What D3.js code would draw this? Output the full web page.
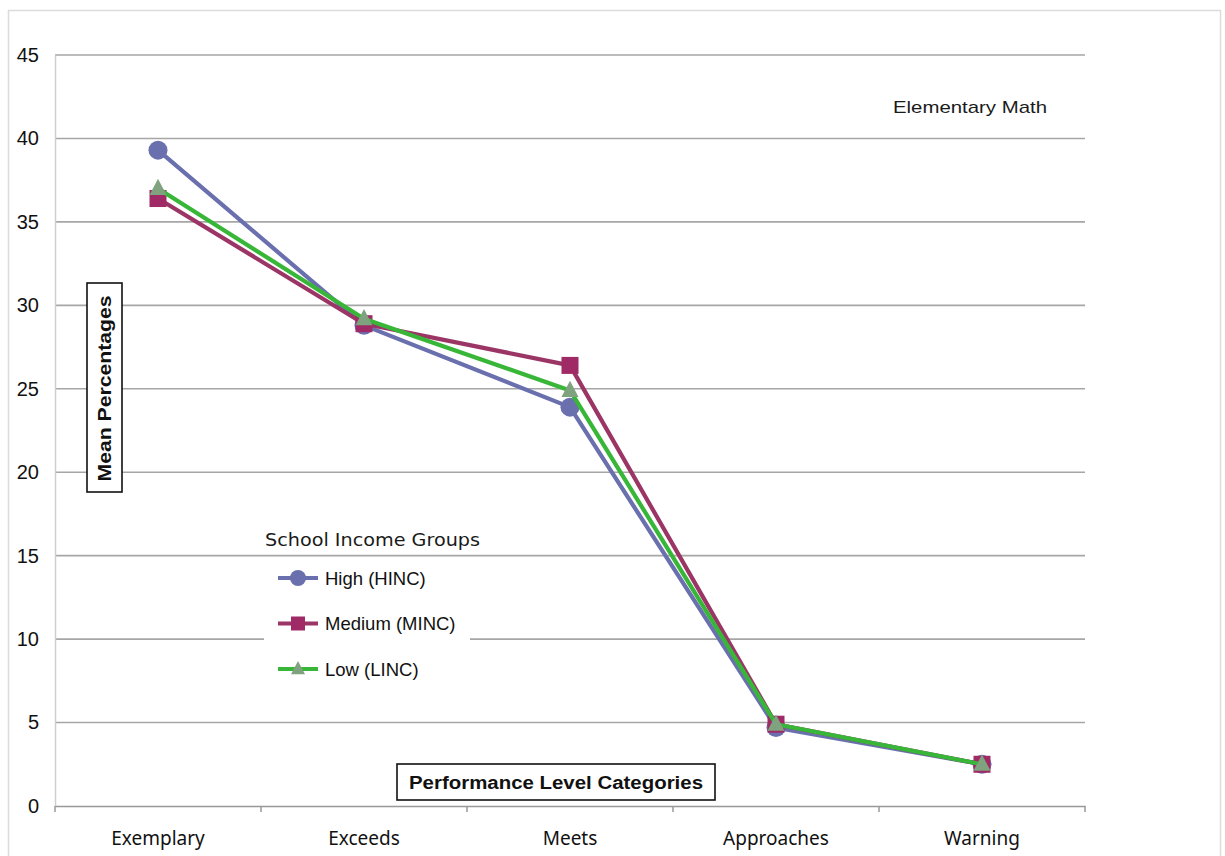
<!DOCTYPE html>
<html>
<head>
<meta charset="utf-8">
<script src="https://cdn.jsdelivr.net/npm/d3@7"></script>
<style>
  html, body { margin: 0; padding: 0; background: #fff; }
  svg { display: block; }
</style>
</head>
<body>
<svg id="chart" width="1225" height="856"></svg>
<script>
// Performance level categories along the x axis
const categories = ["Exemplary", "Exceeds", "Meets", "Approaches", "Warning"];

// Mean percentages per school income group
const highValues   = [39.3, 28.8, 23.9, 4.7, 2.5];
const mediumValues = [36.4, 28.9, 26.4, 4.9, 2.5];
const lowValues    = [37.0, 29.2, 24.9, 4.9, 2.5];

const seriesNames = ["High (HINC)", "Medium (MINC)", "Low (LINC)"];
const yTicks = [0, 5, 10, 15, 20, 25, 30, 35, 40, 45];

const series = [
  { name: seriesNames[0], values: highValues,   line: "#6a70ae", fill: "#6a70ae", shape: "circle" },
  { name: seriesNames[1], values: mediumValues, line: "#9b3566", fill: "#a02a66", shape: "square" },
  { name: seriesNames[2], values: lowValues,    line: "#38b638", fill: "#7fa27f", shape: "triangle" }
];

const svg = d3.select("#chart");

// outer frame
svg.append("rect")
  .attr("x", 8.5).attr("y", 10.5).attr("width", 1212).attr("height", 860)
  .attr("fill", "#fff").attr("stroke", "#dcdcdc").attr("stroke-width", 1.5);

const x = d3.scaleBand().domain(categories).range([55, 1085]);
const y = d3.scaleLinear().domain([0, 45]).range([806, 55]);

// horizontal gridlines
svg.append("g")
  .selectAll("line")
  .data(yTicks.filter(t => t > 0))
  .join("line")
  .attr("x1", 55).attr("x2", 1085)
  .attr("y1", d => y(d)).attr("y2", d => y(d))
  .attr("stroke", "#a6a6a6").attr("stroke-width", 1.6);

// y axis
const yAxis = svg.append("g")
  .attr("transform", "translate(55,0)")
  .call(d3.axisLeft(y).tickValues(yTicks).tickSize(0).tickPadding(16));
yAxis.select(".domain").attr("stroke", "#cfcfcf").attr("stroke-width", 1.5);
yAxis.selectAll("text")
  .attr("font-family", "'Liberation Sans', Arial, sans-serif")
  .attr("font-size", 20).attr("fill", "#111");

// x axis
const xAxis = svg.append("g")
  .attr("transform", "translate(0,806)")
  .call(d3.axisBottom(x).tickSize(0).tickPadding(26));
xAxis.select(".domain").attr("stroke", "#999").attr("stroke-width", 1.6);
xAxis.selectAll("text")
  .attr("font-family", "'Noto Sans', 'Open Sans', sans-serif")
  .attr("font-size", 19).attr("fill", "#111");

// tick marks at category boundaries
const bounds = categories.map(c => x(c)).concat([x.range()[1]]);
svg.append("g")
  .selectAll("line")
  .data(bounds)
  .join("line")
  .attr("x1", d => d).attr("x2", d => d)
  .attr("y1", 806).attr("y2", 812)
  .attr("stroke", "#999").attr("stroke-width", 1.5);

const cx = c => x(c) + x.bandwidth() / 2;
const line = d3.line().x((d, i) => cx(categories[i])).y(d => y(d));

function drawMarker(g, shape, px, py, fill, size) {
  if (shape === "circle") {
    g.append("circle").attr("cx", px).attr("cy", py).attr("r", size / 2).attr("fill", fill);
  } else if (shape === "square") {
    g.append("rect").attr("x", px - size / 2).attr("y", py - size / 2)
      .attr("width", size).attr("height", size).attr("fill", fill);
  } else {
    const h = size * 0.95;
    g.append("path")
      .attr("d", `M${px},${py - h * 0.6} L${px + size / 2},${py + h * 0.4} L${px - size / 2},${py + h * 0.4} Z`)
      .attr("fill", fill);
  }
}

const sizes = { circle: 19, square: 17, triangle: 17 };

series.forEach(s => {
  const g = svg.append("g");
  g.append("path")
    .datum(s.values)
    .attr("d", line)
    .attr("fill", "none")
    .attr("stroke", s.line)
    .attr("stroke-width", 4.2)
    .attr("stroke-linejoin", "round");
  s.values.forEach((v, i) => drawMarker(g, s.shape, cx(categories[i]), y(v), s.fill, sizes[s.shape]));
});

// legend
svg.append("text")
  .attr("x", 265).attr("y", 546)
  .attr("font-family", "'DejaVu Sans', 'Noto Sans', sans-serif")
  .attr("font-size", 18).attr("fill", "#1a1a1a")
  .attr("textLength", 215).attr("lengthAdjust", "spacingAndGlyphs")
  .text("School Income Groups");

svg.append("rect")
  .attr("x", 264).attr("y", 560).attr("width", 206).attr("height", 130)
  .attr("fill", "#fff");

series.forEach((s, i) => {
  const ly = 578 + i * 45.5;
  const g = svg.append("g");
  g.append("line")
    .attr("x1", 278).attr("x2", 318).attr("y1", ly).attr("y2", ly)
    .attr("stroke", s.line).attr("stroke-width", 4);
  drawMarker(g, s.shape, 298, ly, s.fill, sizes[s.shape] - 3);
  g.append("text")
    .attr("x", 325).attr("y", ly + 6.5)
    .attr("font-family", "'Liberation Sans', Arial, sans-serif")
    .attr("font-size", 18.5).attr("fill", "#111")
    .text(s.name);
});

// y axis title box
const yTitle = svg.append("g");
yTitle.append("rect")
  .attr("x", 87).attr("y", 283).attr("width", 35).attr("height", 209)
  .attr("fill", "#fff").attr("stroke", "#111").attr("stroke-width", 1.6);
yTitle.append("text")
  .attr("transform", "translate(111,388.5) rotate(-90)")
  .attr("text-anchor", "middle")
  .attr("font-family", "'Liberation Sans', Arial, sans-serif")
  .attr("font-size", 17.5).attr("font-weight", "bold").attr("fill", "#111")
  .attr("textLength", 186).attr("lengthAdjust", "spacingAndGlyphs")
  .text("Mean Percentages");

// x axis title box
const xTitle = svg.append("g");
xTitle.append("rect")
  .attr("x", 397).attr("y", 764).attr("width", 318).attr("height", 36)
  .attr("fill", "#fff").attr("stroke", "#111").attr("stroke-width", 1.6);
xTitle.append("text")
  .attr("x", 556).attr("y", 788.5)
  .attr("text-anchor", "middle")
  .attr("font-family", "'Liberation Sans', Arial, sans-serif")
  .attr("font-size", 18).attr("font-weight", "bold").attr("fill", "#111")
  .attr("textLength", 294).attr("lengthAdjust", "spacingAndGlyphs")
  .text("Performance Level Categories");

// subject label
svg.append("text")
  .attr("x", 893).attr("y", 113)
  .attr("font-family", "'Liberation Sans', Arial, sans-serif")
  .attr("font-size", 17).attr("fill", "#1a1a1a")
  .attr("textLength", 154).attr("lengthAdjust", "spacingAndGlyphs")
  .text("Elementary Math");
</script>
</body>
</html>
